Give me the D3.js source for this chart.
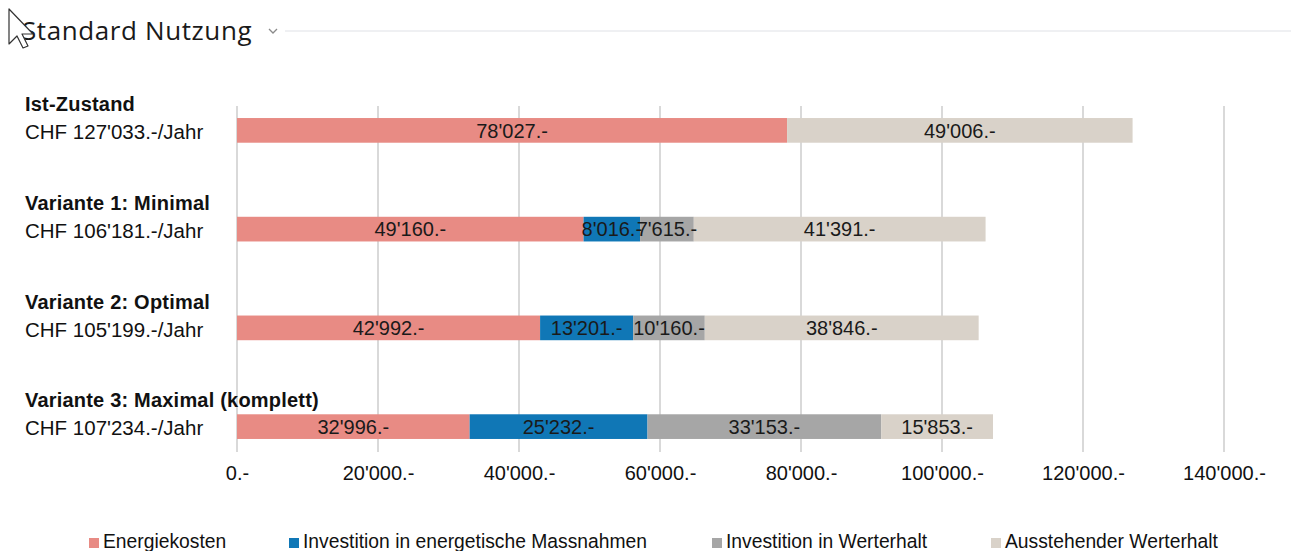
<!DOCTYPE html>
<html>
<head>
<meta charset="utf-8">
<script src="https://cdn.jsdelivr.net/npm/d3@7"></script>
<style>
  html, body { margin: 0; padding: 0; background: #fff; }
  svg { display: block; }
</style>
</head>
<body>
<svg id="chart" width="1291" height="551"></svg>
<script>
// Scenario rows (top to bottom)
const scenarios = ["Ist-Zustand", "Variante 1: Minimal", "Variante 2: Optimal", "Variante 3: Maximal (komplett)"];
const totals = ["CHF 127'033.-/Jahr", "CHF 106'181.-/Jahr", "CHF 105'199.-/Jahr", "CHF 107'234.-/Jahr"];

// Cost components per scenario (CHF per year)
const seriesNames = ["Energiekosten", "Investition in energetische Massnahmen", "Investition in Werterhalt", "Ausstehender Werterhalt"];
const energiekosten = [78027, 49160, 42992, 32996];
const invEnergetisch = [0, 8016, 13201, 25232];
const invWerterhalt = [0, 7615, 10160, 33153];
const ausstehend = [49006, 41391, 38846, 15853];

const tickValues = [0, 20000, 40000, 60000, 80000, 100000, 120000, 140000];
const colors = ["#e88b84", "#1077b6", "#a6a6a6", "#d9d2c9"];

const svg = d3.select("#chart");
const font = "'Liberation Sans', Arial, sans-serif";

// CHF formatting with apostrophe thousands separator
const chf = d3.formatLocale({ decimal: ".", thousands: "'", grouping: [3], currency: ["", ""] });
const fmt = v => chf.format(",d")(v) + ".-";

// Header
svg.append("text")
  .attr("x", 22).attr("y", 40)
  .attr("font-family", "'Open Sans', 'Noto Sans', sans-serif")
  .attr("font-size", 26).attr("letter-spacing", 0.6).attr("fill", "#1a1a1a")
  .text("Standard Nutzung");
svg.append("path")
  .attr("d", "M269,29 L273,33 L277,29")
  .attr("fill", "none").attr("stroke", "#8a8a8a").attr("stroke-width", 1.3);
svg.append("line")
  .attr("x1", 285).attr("x2", 1291).attr("y1", 31).attr("y2", 31)
  .attr("stroke", "#dfe1e6").attr("stroke-width", 1);

// Pointer
svg.append("path")
  .attr("d", "M9,9 L9,44 L17,36 L23,48 L28,46 L22,34 L33,34 Z")
  .attr("fill", "#fff").attr("stroke", "#333").attr("stroke-width", 1.2)
  .attr("stroke-linejoin", "round");

// Scales
const x = d3.scaleLinear().domain([0, 140000]).range([237, 1224]);
const y = d3.scaleBand().domain(scenarios).range([81, 476]).paddingInner(0.75).paddingOuter(0.375);

// Vertical grid lines
svg.append("g").selectAll("line").data(tickValues).join("line")
  .attr("x1", d => x(d)).attr("x2", d => x(d))
  .attr("y1", 106).attr("y2", 452)
  .attr("stroke", "#d9d9d9").attr("stroke-width", 2);

// Axis labels
const axis = d3.axisBottom(x).tickValues(tickValues).tickFormat(fmt).tickSize(0).tickPadding(0);
const axisG = svg.append("g").attr("transform", "translate(0,466)").call(axis);
axisG.select(".domain").remove();
axisG.selectAll("text")
  .attr("font-family", font).attr("font-size", 20).attr("fill", "#111")
  .attr("dy", "0.71em");

// Stack data
const rows = scenarios.map((s, i) => ({
  scenario: s,
  [seriesNames[0]]: energiekosten[i],
  [seriesNames[1]]: invEnergetisch[i],
  [seriesNames[2]]: invWerterhalt[i],
  [seriesNames[3]]: ausstehend[i]
}));
const stacked = d3.stack().keys(seriesNames)(rows);

// Bars
const layers = svg.append("g").selectAll("g").data(stacked).join("g")
  .attr("fill", (d, i) => colors[i]);
layers.selectAll("rect").data(d => d).join("rect")
  .attr("x", d => x(d[0]))
  .attr("width", d => x(d[1]) - x(d[0]))
  .attr("y", d => y(d.data.scenario))
  .attr("height", y.bandwidth());

// Value labels (drawn after all bars so they sit on top)
const labelG = svg.append("g");
stacked.forEach(layer => {
  layer.forEach(d => {
    const v = d[1] - d[0];
    if (v <= 0) return;
    labelG.append("text")
      .attr("x", (x(d[0]) + x(d[1])) / 2)
      .attr("y", y(d.data.scenario) + y.bandwidth() / 2)
      .attr("dy", "0.36em")
      .attr("text-anchor", "middle")
      .attr("font-family", font).attr("font-size", 20).attr("fill", "#1a1a1a")
      .text(fmt(v));
  });
});

// Row labels
const rowG = svg.append("g");
scenarios.forEach((s, i) => {
  const top = y(s);
  rowG.append("text")
    .attr("x", 25).attr("y", top - 7)
    .attr("font-family", font).attr("font-size", 20).attr("letter-spacing", 0.2)
    .attr("font-weight", "bold").attr("fill", "#111")
    .text(s);
  rowG.append("text")
    .attr("x", 25).attr("y", top + 21)
    .attr("font-family", font).attr("font-size", 20.5).attr("fill", "#111")
    .text(totals[i]);
});

// Legend
const legendX = [89, 289, 712, 991];
const legend = svg.append("g");
seriesNames.forEach((name, i) => {
  legend.append("rect")
    .attr("x", legendX[i]).attr("y", 538).attr("width", 10).attr("height", 10)
    .attr("fill", colors[i]);
  legend.append("text")
    .attr("x", legendX[i] + 14).attr("y", 548)
    .attr("font-family", font).attr("font-size", 19.3).attr("fill", "#111")
    .text(name);
});
</script>
</body>
</html>
